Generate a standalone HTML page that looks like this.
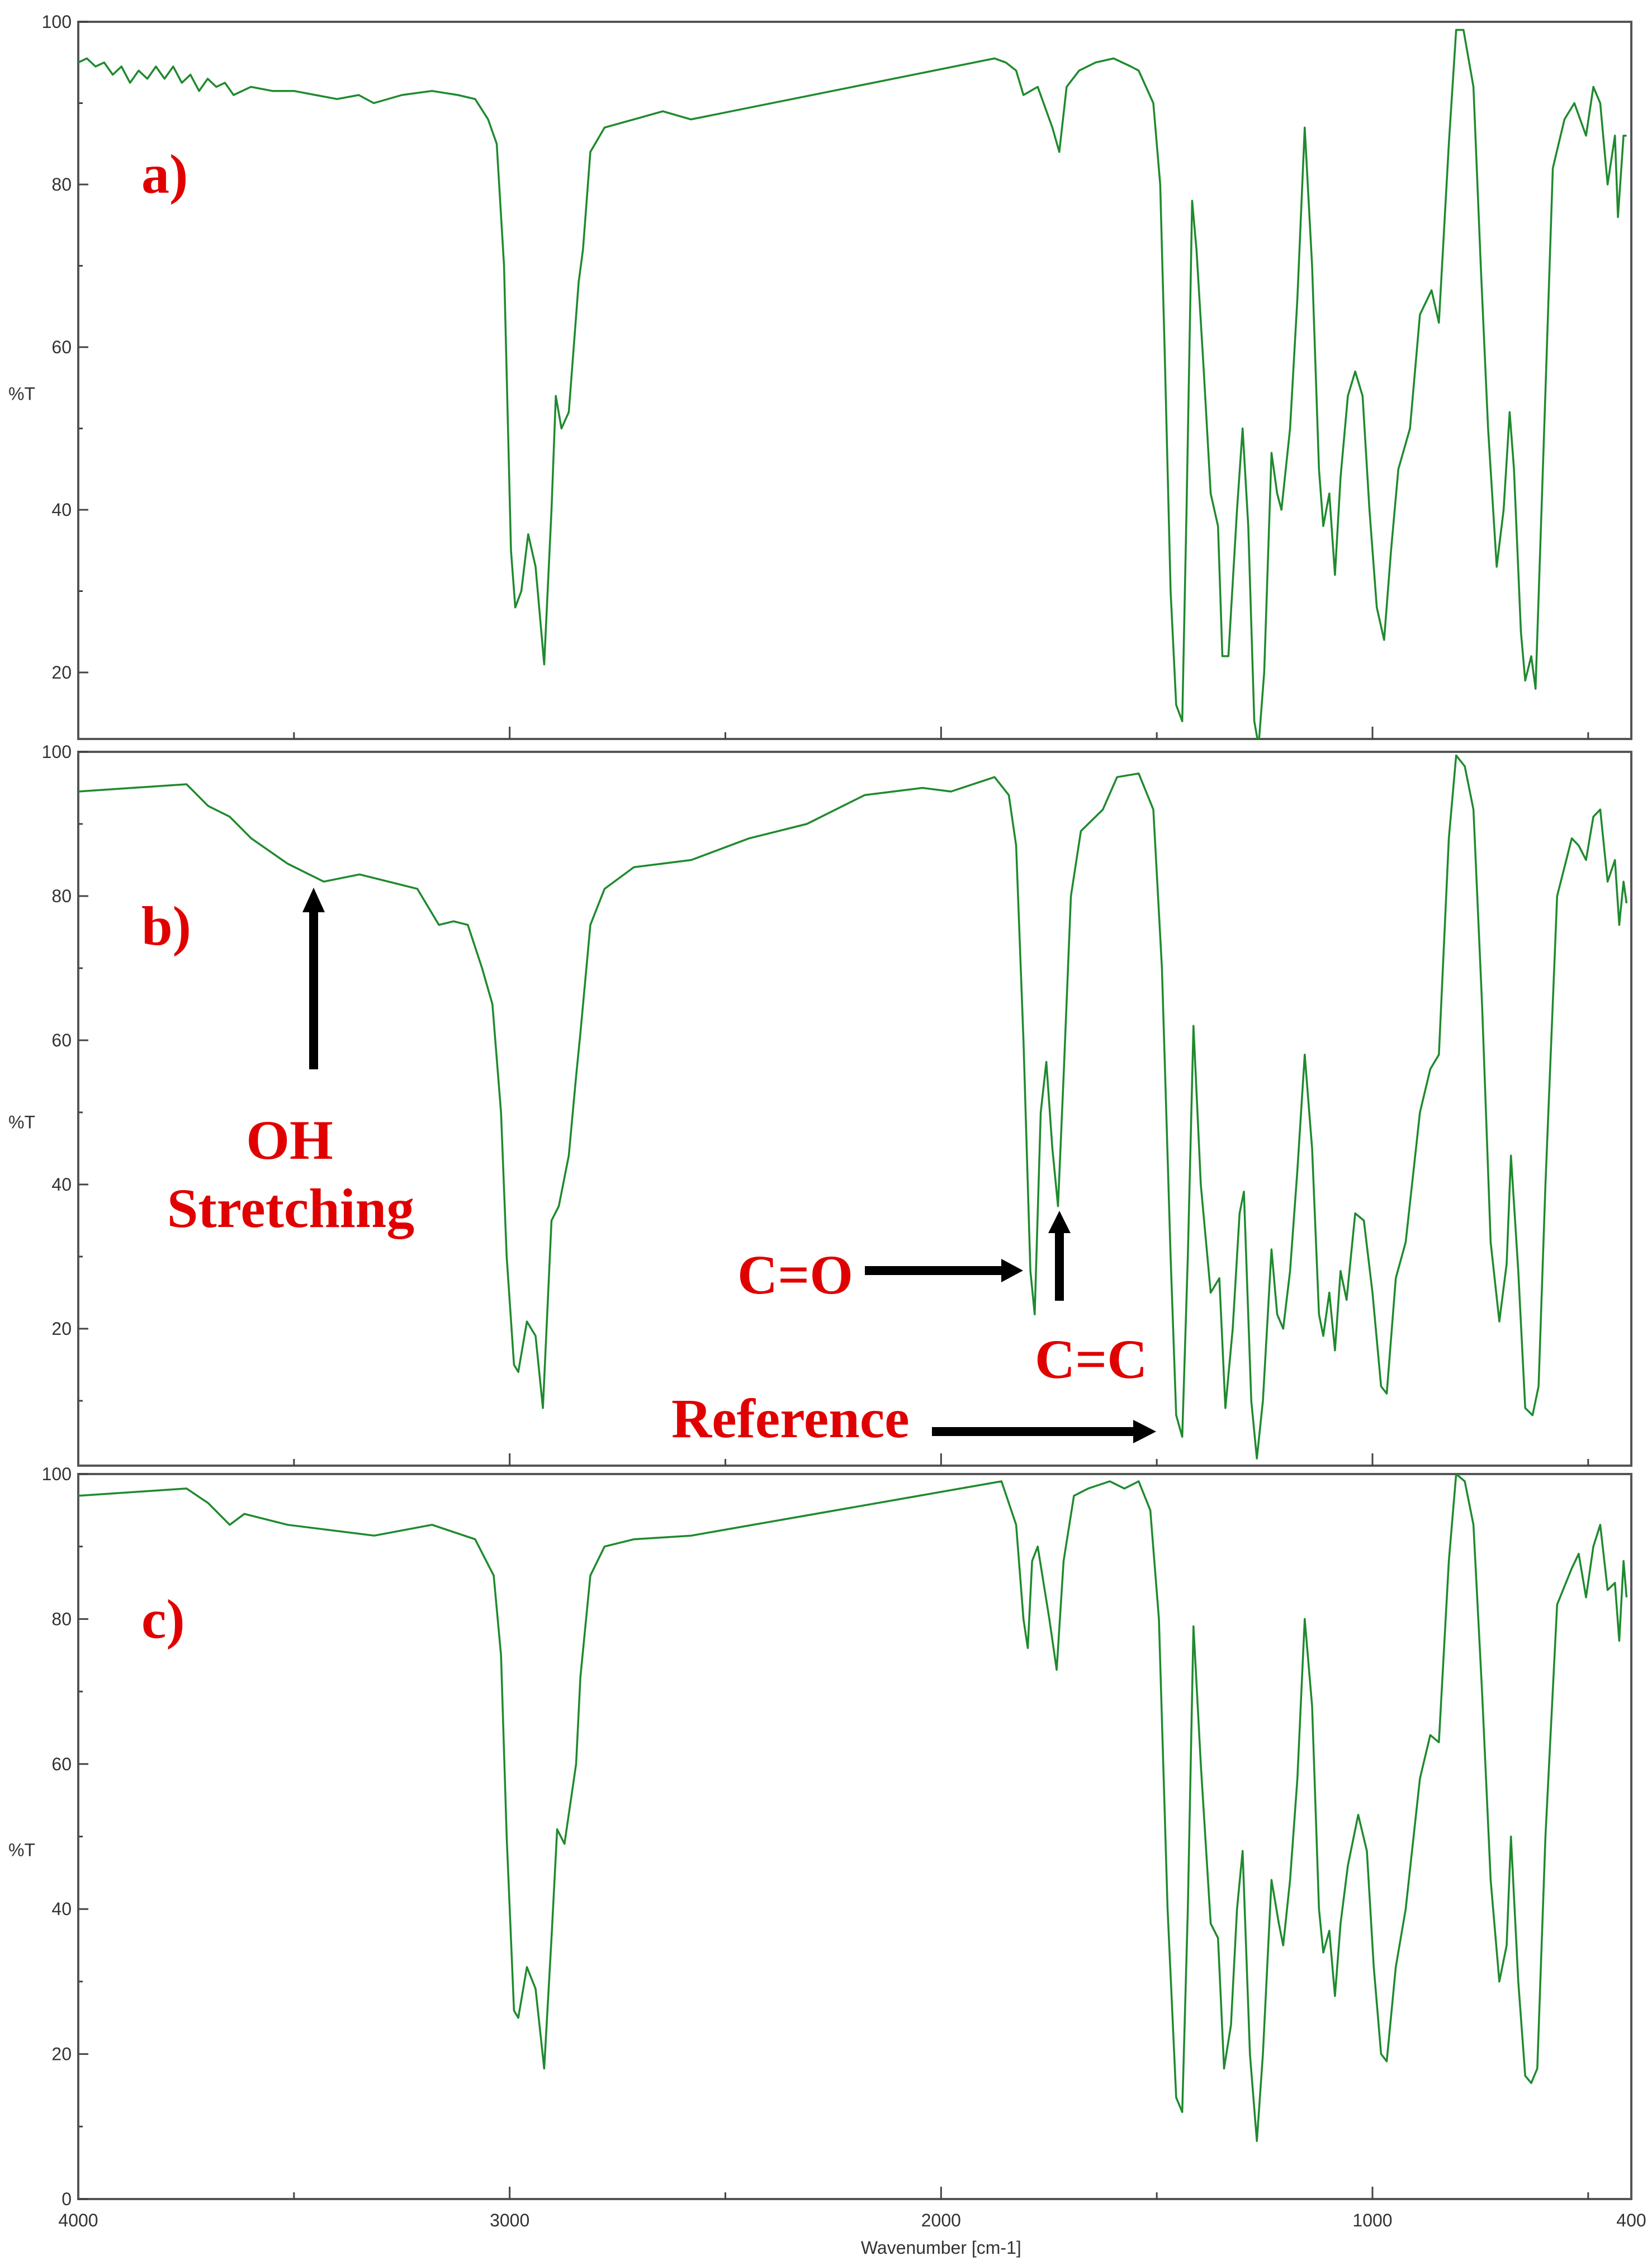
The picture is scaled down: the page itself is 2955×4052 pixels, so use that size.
<!DOCTYPE html>
<html><head><meta charset="utf-8"><style>
html,body{margin:0;padding:0;background:#fff;}
svg{display:block;}
.tk{font-family:"Liberation Sans",sans-serif;font-size:32px;fill:#333;}
.ann{font-family:"Liberation Serif",serif;font-weight:bold;font-size:100px;fill:#e00000;}
</style></head><body>
<svg id="chart" width="2955" height="4052" viewBox="0 0 2955 4052" xmlns="http://www.w3.org/2000/svg">
<g id="axes"></g>
<g id="traces"></g>
<g id="annotations">
<text class="ann" x="253" y="345">a)</text>
<text class="ann" x="253" y="1690">b)</text>
<text class="ann" x="253" y="2930">c)</text>
<text class="ann" x="518" y="2073" text-anchor="middle">OH</text>
<text class="ann" x="520" y="2195" text-anchor="middle">Stretching</text>
<g><rect x="553" y="1630" width="16" height="283" fill="#000"/><polygon points="541,1632 581,1632 561,1588" fill="#000"/></g>
<text class="ann" x="1319" y="2314">C=O</text>
<g><rect x="1547" y="2265" width="246" height="16" fill="#000"/><polygon points="1791,2252 1791,2294 1830,2273" fill="#000"/></g>
<g><rect x="1887" y="2204" width="16" height="123" fill="#000"/><polygon points="1875,2206 1915,2206 1895,2166" fill="#000"/></g>
<text class="ann" x="1851" y="2465">C=C</text>
<text class="ann" x="1201" y="2571">Reference</text>
<g><rect x="1667" y="2553" width="362" height="16" fill="#000"/><polygon points="2027,2540 2027,2582 2068,2561" fill="#000"/></g>
</g>
</svg>
<script>
const wnA=[4000,3980,3960,3940,3920,3900,3880,3860,3840,3820,3800,3780,3760,3740,3720,3700,3680,3660,3640,3600,3550,3500,3450,3400,3350,3315,3250,3180,3120,3080,3050,3030,3013,2997,2987,2973,2957,2940,2920,2903,2893,2880,2863,2840,2830,2813,2780,2712,2645,2580,1876,1850,1826,1809,1776,1742,1726,1709,1680,1642,1600,1560,1542,1508,1492,1482,1468,1455,1441,1431,1418,1408,1391,1375,1358,1348,1334,1314,1301,1288,1274,1264,1251,1234,1221,1211,1191,1174,1157,1140,1124,1114,1100,1087,1074,1057,1040,1023,1007,990,973,957,940,913,890,863,846,823,806,789,766,749,732,712,696,682,672,656,646,632,622,605,582,555,532,505,488,472,455,438,431,418,411];
const tA=[95,95.5,94.5,95,93.5,94.5,92.5,94,93,94.5,93,94.5,92.5,93.5,91.5,93,92,92.5,91,92,91.5,91.5,91,90.5,91,90,91,91.5,91,90.5,88,85,70,35,28,30,37,33,21,40,54,50,52,68,72,84,87,88,89,88,95.5,95,94,91,92,87,84,92,94,95,95.5,94.5,94,90,80,60,30,16,14,40,78,72,57,42,38,22,22,40,50,38,14,11,20,47,42,40,50,66,87,70,45,38,42,32,44,54,57,54,40,28,24,35,45,50,64,67,63,85,99,99,92,70,50,33,40,52,45,25,19,22,18,45,82,88,90,86,92,90,80,86,76,86,86];
const wnB=[4000,3749,3699,3649,3599,3515,3431,3348,3214,3164,3130,3097,3064,3040,3020,3007,2990,2980,2960,2940,2923,2903,2886,2863,2846,2836,2813,2780,2712,2579,2445,2378,2311,2177,2043,1977,1876,1843,1826,1809,1793,1783,1769,1756,1742,1729,1716,1699,1676,1625,1592,1542,1508,1488,1468,1455,1441,1428,1415,1398,1375,1355,1341,1324,1308,1298,1281,1268,1254,1234,1221,1207,1191,1174,1157,1140,1124,1114,1100,1087,1074,1060,1040,1020,1000,980,967,946,923,890,866,846,823,806,786,766,746,726,706,689,679,662,646,629,615,599,572,538,522,505,488,472,455,438,428,418,411];
const tB=[94.5,95.5,92.5,91,88,84.5,82,83,81,76,76.5,76,70,65,50,30,15,14,21,19,9,35,37,44,55,61,76,81,84,85,88,89,90,94,95,94.5,96.5,94,87,60,28,22,50,57,45,37,55,80,89,92,96.5,97,92,70,30,8,5,30,62,40,25,27,9,20,36,39,10,2,10,31,22,20,28,42,58,45,22,19,25,17,28,24,36,35,25,12,11,27,32,50,56,58,88,99.5,98,92,65,32,21,29,44,28,9,8,12,40,80,88,87,85,91,92,82,85,76,82,79];
const wnC=[4000,3749,3699,3649,3615,3515,3314,3180,3080,3037,3020,3007,2990,2980,2960,2940,2920,2903,2890,2873,2846,2836,2813,2780,2712,2579,1860,1826,1809,1799,1789,1776,1749,1732,1716,1692,1659,1609,1575,1542,1515,1495,1475,1455,1441,1428,1415,1398,1375,1358,1344,1328,1314,1301,1284,1268,1254,1234,1217,1207,1191,1174,1157,1140,1124,1114,1100,1087,1074,1057,1033,1013,997,980,967,946,923,890,866,846,823,806,786,766,746,726,706,689,679,662,646,632,618,599,572,538,522,505,488,472,455,438,428,418,411];
const tC=[97,98,96,93,94.5,93,91.5,93,91,86,75,50,26,25,32,29,18,36,51,49,60,72,86,90,91,91.5,99,93,80,76,88,90,80,73,88,97,98,99,98,99,95,80,40,14,12,40,79,60,38,36,18,24,40,48,20,8,20,44,38,35,44,58,80,68,40,34,37,28,38,46,53,48,32,20,19,32,40,58,64,63,88,100,99,93,70,44,30,35,50,30,17,16,18,50,82,87,89,83,90,93,84,85,77,88,83];
const yTicksA=[100,80,60,40,20];
const yTicksB=[100,80,60,40,20];
const yTicksC=[100,80,60,40,20,0];
const xTickLabels=[4000,3000,2000,1000,400];

const NS="http://www.w3.org/2000/svg";
const L=140,R=2918;
function xs(w){return L+(4000-w)/3600*(R-L);}
const panels=[
 {id:'a',top:39,bottom:1322,y100:39,ppu:14.55,wn:wnA,t:tA,ticks:yTicksA},
 {id:'b',top:1345,bottom:2622,y100:1345,ppu:12.9,wn:wnB,t:tB,ticks:yTicksB},
 {id:'c',top:2637,bottom:3934,y100:2637,ppu:12.97,wn:wnC,t:tC,ticks:yTicksC}
];
const axes=document.getElementById('axes'),traces=document.getElementById('traces');
function mk(tag,attrs,parent){const e=document.createElementNS(NS,tag);for(const k in attrs)e.setAttribute(k,attrs[k]);parent.appendChild(e);return e;}
panels.forEach(p=>{
 const ys=v=>p.y100+(100-v)*p.ppu;
 const g=mk('g',{},axes);
 
 
 const fr=mk('rect',{x:L,y:p.top,width:R-L,height:p.bottom-p.top,fill:'none',stroke:'#555','stroke-width':4},g);
 
 
 for(let v=0;v<=100;v+=10){
  const y=ys(v); if(y<p.top-1||y>p.bottom+1)continue;
  const major=v%20===0;
  mk('line',{x1:L,x2:L+(major?18:8),y1:y,y2:y,stroke:'#444','stroke-width':3},g);
 }
 p.ticks.forEach(v=>{
  const t=mk('text',{x:128,y:ys(v)+11,'text-anchor':'end',class:'tk'},g);
  t.textContent=v;
  
  
 });
 const yl=mk('text',{x:15,y:(p.top+p.bottom)/2+35,class:'tk'},g);
 yl.textContent='%T';
 
 
 for(let w=3500;w>=500;w-=500){
  const major=w%1000===0;
  mk('line',{x1:xs(w),x2:xs(w),y1:p.bottom,y2:p.bottom-(major?22:12),stroke:'#444','stroke-width':3},g);
 }
 const cp=mk('clipPath',{id:'clip'+p.id},traces);
 mk('rect',{x:L,y:p.top,width:R-L,height:p.bottom-p.top},cp);
 let d='';
 p.wn.forEach((w,i)=>{d+=(i?'L':'M')+xs(w).toFixed(1)+','+ys(p.t[i]).toFixed(1);});
 const path=mk('path',{d:d,fill:'none',stroke:'#1f8a2e','stroke-width':3.5,'stroke-linejoin':'round','clip-path':'url(#clip'+p.id+')'},traces);
 
 
});
xTickLabels.forEach(w=>{
 const t=mk('text',{x:xs(w),y:3983,'text-anchor':'middle',class:'tk'},axes);
 t.textContent=w;
 
 
});
const xt=mk('text',{x:xs(2000),y:4032,'text-anchor':'middle',class:'tk'},axes);
xt.textContent='Wavenumber [cm-1]';


</script>
</body></html>
